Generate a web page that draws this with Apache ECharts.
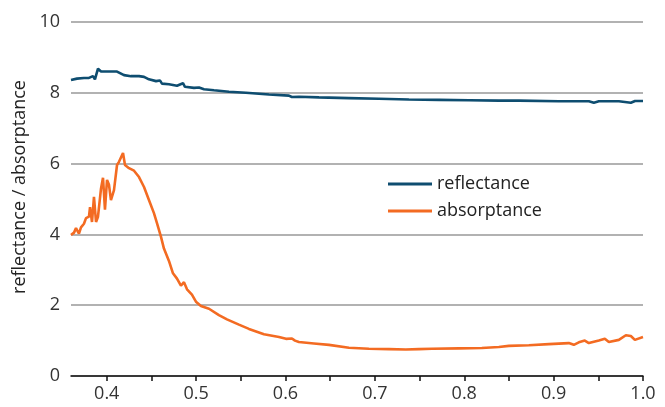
<!DOCTYPE html>
<html>
<head>
<meta charset="utf-8">
<script src="https://cdn.jsdelivr.net/npm/echarts@6/dist/echarts.min.js"></script>
<style>
  html, body { margin: 0; padding: 0; background: #fff; }
  #chart { width: 665px; height: 407px; }
</style>
</head>
<body>
<div id="chart"></div>
<script>
// wavelength (x) and value pairs
var reflX = [0.360, 0.3667, 0.3745, 0.3801, 0.3846, 0.3868, 0.3902, 0.3936, 0.4025, 0.4115, 0.4193, 0.4271,
  0.4361, 0.4417, 0.4472, 0.4551, 0.4595, 0.4618, 0.4696, 0.4786, 0.4853, 0.4875, 0.4976, 0.5032, 0.5088,
  0.5200, 0.5367, 0.5557, 0.5815, 0.6038, 0.6072, 0.6150, 0.6374, 0.6710, 0.7045, 0.7381, 0.7716, 0.8052,
  0.8387, 0.8611, 0.9058, 0.9394, 0.9450, 0.9506, 0.9730, 0.9864, 0.9911, 1.0];
var reflY = [8.36, 8.40, 8.42, 8.42, 8.47, 8.38, 8.68, 8.60, 8.60, 8.60, 8.50, 8.47,
  8.47, 8.45, 8.38, 8.33, 8.35, 8.26, 8.24, 8.20, 8.27, 8.17, 8.14, 8.15, 8.10,
  8.07, 8.03, 8.00, 7.95, 7.92, 7.88, 7.89, 7.87, 7.85, 7.83, 7.81, 7.80, 7.79,
  7.78, 7.78, 7.76, 7.76, 7.72, 7.76, 7.76, 7.72, 7.77, 7.77];

var absX = [0.360, 0.3634, 0.3656, 0.3689, 0.3712, 0.3745, 0.3768, 0.3801, 0.3813, 0.3835, 0.3857, 0.3880,
  0.3902, 0.3936, 0.3958, 0.3980, 0.4003, 0.4025, 0.4047, 0.4081, 0.4115, 0.4137, 0.4159, 0.4182, 0.4204,
  0.4249, 0.4305, 0.4361, 0.4417, 0.4472, 0.4528, 0.4562, 0.4607, 0.4640, 0.4696, 0.4741, 0.4786, 0.4830,
  0.4864, 0.4898, 0.4953, 0.4998, 0.5054, 0.5144, 0.5255, 0.5345, 0.5479, 0.5591, 0.5759, 0.5927, 0.6005,
  0.6072, 0.6106, 0.6150, 0.6318, 0.6486, 0.6710, 0.6933, 0.7157, 0.7347, 0.7493, 0.7638, 0.7940, 0.8197,
  0.8387, 0.8499, 0.8723, 0.8947, 0.9170, 0.9226, 0.9282, 0.9349, 0.9394, 0.9506, 0.9573, 0.9618, 0.9730,
  0.9808, 0.9864, 0.9909, 1.0];
var absY = [3.98, 4.05, 4.18, 4.02, 4.20, 4.30, 4.46, 4.50, 4.77, 4.35, 5.06, 4.35,
  4.50, 5.30, 5.60, 4.70, 5.54, 5.40, 4.97, 5.25, 5.96, 6.05, 6.00, 6.30, 5.96,
  5.87, 5.80, 5.62, 5.34, 4.97, 4.60, 4.32, 3.93, 3.60, 3.25, 2.90, 2.75, 2.55,
  2.65, 2.45, 2.30, 2.10, 1.98, 1.90, 1.72, 1.60, 1.45, 1.33, 1.18, 1.10, 1.05,
  1.06, 1.00, 0.96, 0.92, 0.88, 0.80, 0.77, 0.76, 0.75, 0.76, 0.77, 0.78, 0.79,
  0.82, 0.85, 0.87, 0.90, 0.93, 0.88, 0.95, 1.00, 0.93, 1.00, 1.05, 0.96, 1.02,
  1.15, 1.13, 1.02, 1.10];

var xTickLabels = [0.4, 0.5, 0.6, 0.7, 0.8, 0.9, 1.0];
var xTickMarks = [0.4, 0.45, 0.5, 0.55, 0.6, 0.65, 0.7, 0.75, 0.8, 0.85, 0.9, 0.95, 1.0];

function pairs(xs, ys) {
  return xs.map(function (x, i) { return [x, ys[i]]; });
}

var font = 'Open Sans';
var chart = echarts.init(document.getElementById('chart'));
chart.setOption({
  animation: false,
  textStyle: { fontFamily: font },
  grid: { left: 71, right: 22, top: 22, bottom: 31 },
  legend: {
    orient: 'vertical',
    left: 388,
    top: 175,
    padding: 0,
    icon: 'rect',
    itemWidth: 44,
    itemHeight: 3,
    itemGap: 9,
    textStyle: { fontFamily: font, fontSize: 18, color: '#222' },
    data: ['reflectance', 'absorptance']
  },
  xAxis: {
    type: 'value',
    min: 0.36,
    max: 1.0,
    axisLine: { lineStyle: { color: '#111', width: 1.5 } },
    axisTick: { show: true, length: 5, customValues: xTickMarks, lineStyle: { color: '#111', width: 1.5 } },
    axisLabel: {
      customValues: xTickLabels,
      fontSize: 18,
      color: '#333',
      margin: 9,
      formatter: function (v) { return v.toFixed(1); }
    },
    splitLine: { show: false }
  },
  yAxis: {
    type: 'value',
    min: 0,
    max: 10,
    interval: 2,
    name: 'reflectance / absorptance',
    nameLocation: 'middle',
    nameGap: 40,
    nameTextStyle: { fontFamily: font, fontSize: 18, color: '#222', padding: [0, 0, 0, 24] },
    axisLine: { show: false },
    axisTick: { show: false },
    axisLabel: { fontSize: 18, color: '#333', margin: 11 },
    splitLine: { lineStyle: { color: '#999', width: 1.5 } }
  },
  series: [
    {
      name: 'reflectance',
      type: 'line',
      showSymbol: false,
      color: '#0e4d70',
      lineStyle: { width: 2.6 },
      data: pairs(reflX, reflY)
    },
    {
      name: 'absorptance',
      type: 'line',
      showSymbol: false,
      color: '#f36b22',
      lineStyle: { width: 2.6 },
      data: pairs(absX, absY)
    }
  ]
});
</script>
</body>
</html>
